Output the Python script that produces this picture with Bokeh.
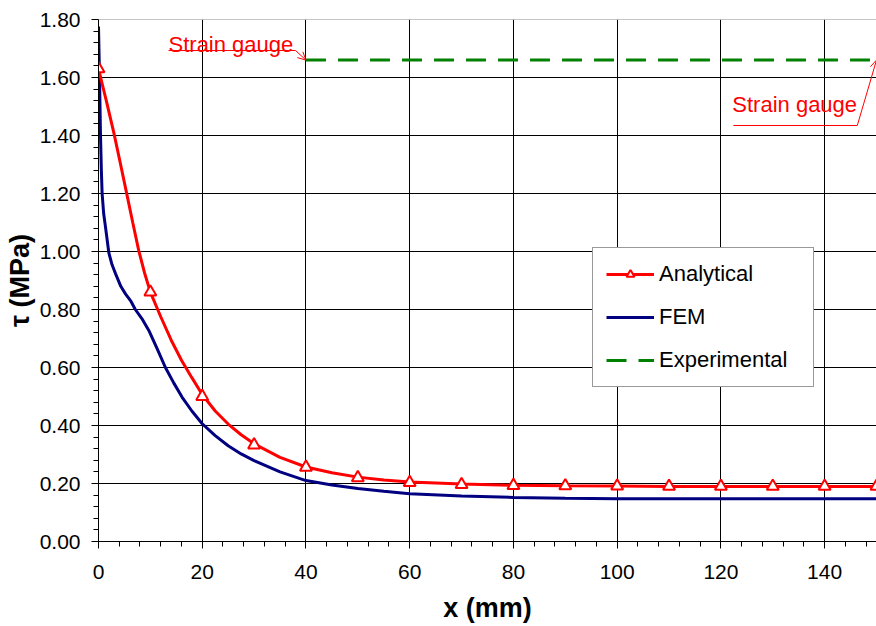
from bokeh.plotting import figure
from bokeh.models import (FixedTicker, NumeralTickFormatter, Legend, LegendItem,
                          Label, Arrow, OpenHead, Span, Range1d)
from bokeh.embed import file_html
from bokeh.resources import INLINE

# ---------------- data ----------------
ana_x = [0, 1.5, 2.95, 4.2, 5.4, 6.6, 7.76, 8.9, 10, 12, 14, 16, 18, 20, 22.5, 25,
         27.5, 30, 35, 40, 45, 50, 55, 60, 70, 80, 90, 100, 110, 120, 130, 140, 150]
ana_y = [1.63, 1.52, 1.41, 1.305, 1.203, 1.10, 1.003, 0.925, 0.86, 0.775, 0.695, 0.625,
         0.565, 0.507, 0.45, 0.405, 0.368, 0.337, 0.29, 0.257, 0.237, 0.222, 0.212,
         0.205, 0.198, 0.194, 0.192, 0.191, 0.19, 0.19, 0.19, 0.19, 0.19]

mk_x = [0, 10, 20, 30, 40, 50, 60, 70, 80, 90, 100, 110, 120, 130, 140, 150]
mk_y = [1.63, 0.86, 0.50, 0.333, 0.256, 0.22, 0.203, 0.196, 0.193, 0.192, 0.191,
        0.19, 0.19, 0.19, 0.19, 0.19]

fem_x = [0, 0.2, 0.38, 0.55, 0.7, 1.0, 1.35, 2.0, 2.6, 3.3, 4.3, 5.2, 6.2, 7.1, 8.5,
         9.7, 11.3, 12.9, 14.5, 16.1, 18, 20, 22.5, 25, 27.5, 30, 35, 40, 45, 50, 55,
         60, 70, 80, 90, 100, 110, 120, 130, 140, 150]
fem_y = [1.776, 1.60, 1.406, 1.28, 1.20, 1.13, 1.084, 0.995, 0.955, 0.923, 0.88, 0.854,
         0.83, 0.80, 0.765, 0.728, 0.665, 0.60, 0.547, 0.498, 0.45, 0.406, 0.365, 0.33,
         0.302, 0.279, 0.24, 0.21, 0.195, 0.183, 0.173, 0.165, 0.157, 0.152, 0.149,
         0.147, 0.147, 0.147, 0.147, 0.147, 0.147]

exp_x = [40, 150]
exp_y = [1.66, 1.66]

x_ticks = [0, 20, 40, 60, 80, 100, 120, 140]
x_minor = [i * 4 for i in range(38)]
y_ticks = [0.0, 0.2, 0.4, 0.6, 0.8, 1.0, 1.2, 1.4, 1.6, 1.8]
y_minor = [round(i * 0.04, 2) for i in range(46)]

FONT = "Liberation Sans"

p = figure(width=876, height=626, output_backend="svg", toolbar_location=None,
           x_range=Range1d(0, 150), y_range=Range1d(0, 1.8),
           min_border_left=98, min_border_right=0, min_border_top=19,
           min_border_bottom=85)
p.outline_line_color = None
p.background_fill_color = "white"
p.border_fill_color = "white"

# axes
for ax in (p.xaxis[0], p.yaxis[0]):
    ax.axis_line_color = "black"
    ax.axis_line_width = 1
    ax.major_tick_line_color = "black"
    ax.minor_tick_line_color = "black"
    ax.major_tick_in = 0
    ax.major_tick_out = 7
    ax.minor_tick_in = 0
    ax.minor_tick_out = 5
    ax.major_label_text_font = FONT
    ax.major_label_text_font_size = "21px"
    ax.major_label_text_color = "black"
    ax.axis_label_text_font = FONT
    ax.axis_label_text_font_size = "27px"
    ax.axis_label_text_font_style = "bold"
    ax.axis_label_text_color = "black"

p.xaxis.ticker = FixedTicker(ticks=x_ticks, minor_ticks=x_minor)
p.yaxis.ticker = FixedTicker(ticks=y_ticks, minor_ticks=y_minor)
p.yaxis.formatter = NumeralTickFormatter(format="0.00")
p.xaxis.axis_label = "x (mm)"
p.yaxis.axis_label = "τ (MPa)"
p.xaxis.major_label_standoff = 16
p.yaxis.major_label_standoff = 11
p.xaxis.axis_label_standoff = 11
p.yaxis.axis_label_standoff = 2

p.xgrid.ticker = FixedTicker(ticks=x_ticks[1:])
p.ygrid.ticker = FixedTicker(ticks=y_ticks[1:-1])
p.xgrid.grid_line_color = "black"
p.ygrid.grid_line_color = "black"
p.xgrid.grid_line_width = 1
p.ygrid.grid_line_width = 1

p.add_layout(Span(location=1.8, dimension="width", line_color="#8c8c8c", line_width=1))

# series
r_exp = p.line(exp_x, exp_y, line_color="#008000", line_width=3, line_dash="20 12")
r_fem = p.line(fem_x, fem_y, line_color="#000080", line_width=3)
r_ana = p.line(ana_x, ana_y, line_color="#ff0000", line_width=3)
r_mk = p.scatter(mk_x, mk_y, marker="triangle", size=12, line_color="#ff0000",
                 line_width=2, fill_color="white")

# annotations "Strain gauge"
p.add_layout(Label(x=13.5, y=1.714, text="Strain gauge", text_color="#ff0000",
                   text_font=FONT, text_font_size="22px", text_baseline="alphabetic"))
p.segment(x0=[13.5], y0=[1.693], x1=[38.0], y1=[1.693], line_color="#ff0000", line_width=1)
p.add_layout(Arrow(x_start=38.0, y_start=1.693, x_end=exp_x[0], y_end=exp_y[0],
                   line_color="#ff0000", line_width=1,
                   end=OpenHead(size=8, line_color="#ff0000", line_width=1)))

p.add_layout(Label(x=122.2, y=1.508, text="Strain gauge", text_color="#ff0000",
                   text_font=FONT, text_font_size="22px", text_baseline="alphabetic"))
p.segment(x0=[122.4], y0=[1.4345], x1=[146.3], y1=[1.4345], line_color="#ff0000", line_width=1)
p.add_layout(Arrow(x_start=146.3, y_start=1.4345, x_end=exp_x[1], y_end=exp_y[1],
                   line_color="#ff0000", line_width=1,
                   end=OpenHead(size=8, line_color="#ff0000", line_width=1)))

legend = Legend(items=[LegendItem(label="Analytical", renderers=[r_ana, r_mk]),
                       LegendItem(label="FEM", renderers=[r_fem]),
                       LegendItem(label="Experimental", renderers=[r_exp])],
                location=(494, 154))
legend.label_text_font = FONT
legend.label_text_font_size = "22px"
legend.label_text_color = "black"
legend.glyph_width = 48
legend.glyph_height = 20
legend.label_height = 20
legend.label_standoff = 5
legend.label_width = 141
legend.spacing = 17
legend.padding = 13
legend.margin = 0
legend.border_line_color = "#333333"
legend.border_line_width = 1
legend.background_fill_color = "white"
legend.background_fill_alpha = 1
p.add_layout(legend, "center")

open("out.html", "w").write(file_html(p, INLINE))
